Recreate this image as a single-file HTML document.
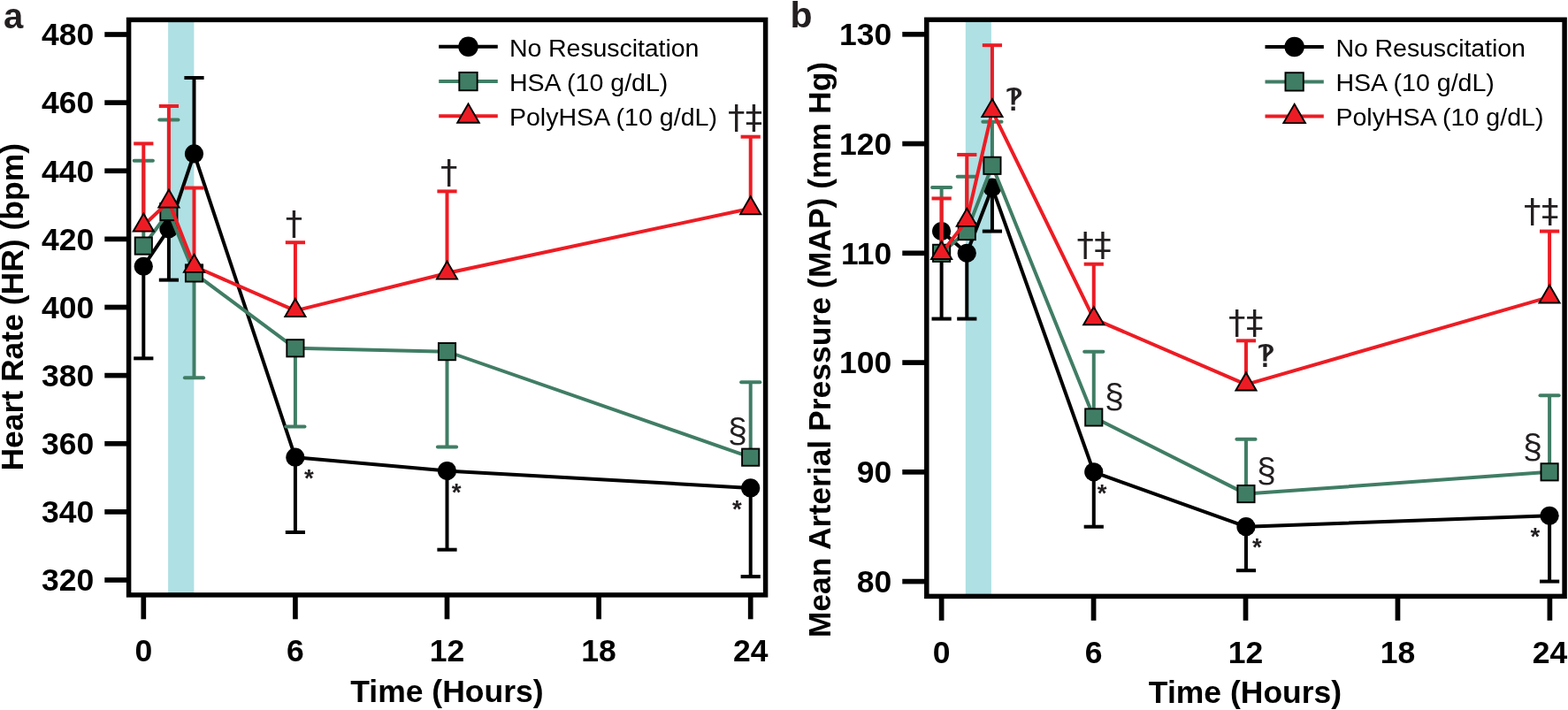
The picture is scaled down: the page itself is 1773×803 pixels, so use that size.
<!DOCTYPE html>
<html lang="en"><head><meta charset="utf-8"><title>Figure</title>
<style>html,body{margin:0;padding:0;background:#fff}body{width:1773px;height:803px;overflow:hidden}svg{display:block}text{font-family:"Liberation Sans",Arial,Helvetica,sans-serif}.sym{font-family:"Liberation Sans","DejaVu Sans",sans-serif;fill:#231F20}</style>
</head><body>
<svg width="1773" height="803" viewBox="0 0 1773 803">
<rect width="1773" height="803" fill="#fff"/>
<rect x="190.1" y="22.4" width="29.3" height="650.5" fill="#AEE0E4"/>
<g stroke="#000" stroke-width="5.7" fill="none">
<path d="M118.3 39H145.6"/>
<path d="M118.3 116.12H145.6"/>
<path d="M118.3 193.25H145.6"/>
<path d="M118.3 270.38H145.6"/>
<path d="M118.3 347.5H145.6"/>
<path d="M118.3 424.62H145.6"/>
<path d="M118.3 501.75H145.6"/>
<path d="M118.3 578.88H145.6"/>
<path d="M118.3 656H145.6"/>
<path d="M162.3 672.9V700.3"/>
<path d="M333.9 672.9V700.3"/>
<path d="M505.5 672.9V700.3"/>
<path d="M677.1 672.9V700.3"/>
<path d="M848.7 672.9V700.3"/>
</g>
<rect x="145.6" y="22.4" width="720" height="650.5" fill="none" stroke="#000" stroke-width="5.5"/>
<g font-weight="bold" font-size="35.5" fill="#000">
<text transform="translate(106.3 51.3) scale(1 1)" text-anchor="end">480</text>
<text transform="translate(106.3 128.43) scale(1 1)" text-anchor="end">460</text>
<text transform="translate(106.3 205.55) scale(1 1)" text-anchor="end">440</text>
<text transform="translate(106.3 282.68) scale(1 1)" text-anchor="end">420</text>
<text transform="translate(106.3 359.8) scale(1 1)" text-anchor="end">400</text>
<text transform="translate(106.3 436.93) scale(1 1)" text-anchor="end">380</text>
<text transform="translate(106.3 514.05) scale(1 1)" text-anchor="end">360</text>
<text transform="translate(106.3 591.17) scale(1 1)" text-anchor="end">340</text>
<text transform="translate(106.3 668.3) scale(1 1)" text-anchor="end">320</text>
<text transform="translate(162.3 748.4) scale(1 1)" text-anchor="middle">0</text>
<text transform="translate(333.9 748.4) scale(1 1)" text-anchor="middle">6</text>
<text transform="translate(505.5 748.4) scale(1 1)" text-anchor="middle">12</text>
<text transform="translate(677.1 748.4) scale(1 1)" text-anchor="middle">18</text>
<text transform="translate(848.7 748.4) scale(1 1)" text-anchor="middle">24</text>
<text transform="translate(505.4 793.9) scale(1 1)" text-anchor="middle">Time (Hours)</text>
</g>
<g stroke="#000000" stroke-width="4.0" fill="none">
<path d="M162.3 301.23V405.34"/>
<path d="M151.2 405.34H173.4"/>
<path d="M190.9 258.81V316.65"/>
<path d="M179.8 316.65H202"/>
<path d="M219.5 173.97V87.97"/>
<path d="M208.4 87.97H230.6"/>
<path d="M333.9 517.17V602.01"/>
<path d="M322.8 602.01H345"/>
<path d="M505.5 532.6V621.68"/>
<path d="M494.4 621.68H516.6"/>
<path d="M848.7 551.88V652.14"/>
<path d="M837.6 652.14H859.8"/>
<path d="M162.3 301.23L190.9 258.81L219.5 173.97L333.9 517.17L505.5 532.6L848.7 551.88" stroke-linejoin="round"/>
</g>
<circle cx="162.3" cy="301.23" r="10.6" fill="#000"/>
<circle cx="190.9" cy="258.81" r="10.6" fill="#000"/>
<circle cx="219.5" cy="173.97" r="10.6" fill="#000"/>
<circle cx="333.9" cy="517.17" r="10.6" fill="#000"/>
<circle cx="505.5" cy="532.6" r="10.6" fill="#000"/>
<circle cx="848.7" cy="551.88" r="10.6" fill="#000"/>
<g stroke="#407D65" stroke-width="4.0" fill="none">
<path d="M162.3 278.09V181.68"/>
<path d="M151.7 181.68H172.9" stroke-linecap="round"/>
<path d="M190.9 239.53V135.41"/>
<path d="M180.3 135.41H201.5" stroke-linecap="round"/>
<path d="M219.5 308.94V427.32"/>
<path d="M208.9 427.32H230.1" stroke-linecap="round"/>
<path d="M333.9 393.78V482.47"/>
<path d="M323.3 482.47H344.5" stroke-linecap="round"/>
<path d="M505.5 397.63V505.61"/>
<path d="M494.9 505.61H516.1" stroke-linecap="round"/>
<path d="M848.7 517.17V432.34"/>
<path d="M838.1 432.34H859.3" stroke-linecap="round"/>
<path d="M162.3 278.09L190.9 239.53L219.5 308.94L333.9 393.78L505.5 397.63L848.7 517.17" stroke-linejoin="round"/>
</g>
<rect x="152.7" y="268.49" width="19.2" height="19.2" fill="#407D65" stroke="#000" stroke-width="1.9"/>
<rect x="181.3" y="229.93" width="19.2" height="19.2" fill="#407D65" stroke="#000" stroke-width="1.9"/>
<rect x="209.9" y="299.34" width="19.2" height="19.2" fill="#407D65" stroke="#000" stroke-width="1.9"/>
<rect x="324.3" y="384.18" width="19.2" height="19.2" fill="#407D65" stroke="#000" stroke-width="1.9"/>
<rect x="495.9" y="388.03" width="19.2" height="19.2" fill="#407D65" stroke="#000" stroke-width="1.9"/>
<rect x="839.1" y="507.57" width="19.2" height="19.2" fill="#407D65" stroke="#000" stroke-width="1.9"/>
<g stroke="#ED1C24" stroke-width="4.0" fill="none">
<path d="M162.3 254.95V162.4"/>
<path d="M151.2 162.4H173.4"/>
<path d="M190.9 227.96V119.98"/>
<path d="M179.8 119.98H202"/>
<path d="M219.5 301.23V212.53"/>
<path d="M208.4 212.53H230.6"/>
<path d="M333.9 351.36V274.23"/>
<path d="M322.8 274.23H345"/>
<path d="M505.5 308.94V216.39"/>
<path d="M494.4 216.39H516.6"/>
<path d="M848.7 235.67V154.69"/>
<path d="M837.6 154.69H859.8"/>
<path d="M162.3 254.95L190.9 227.96L219.5 301.23L333.9 351.36L505.5 308.94L848.7 235.67" stroke-linejoin="round"/>
</g>
<path d="M162.3 241.56L173.9 261.65L150.7 261.65Z" fill="#ED1C24" stroke="#000" stroke-width="1.9" stroke-linejoin="miter"/>
<path d="M190.9 214.56L202.5 234.65L179.3 234.65Z" fill="#ED1C24" stroke="#000" stroke-width="1.9" stroke-linejoin="miter"/>
<path d="M219.5 287.83L231.1 307.92L207.9 307.92Z" fill="#ED1C24" stroke="#000" stroke-width="1.9" stroke-linejoin="miter"/>
<path d="M333.9 337.96L345.5 358.05L322.3 358.05Z" fill="#ED1C24" stroke="#000" stroke-width="1.9" stroke-linejoin="miter"/>
<path d="M505.5 295.54L517.1 315.63L493.9 315.63Z" fill="#ED1C24" stroke="#000" stroke-width="1.9" stroke-linejoin="miter"/>
<path d="M848.7 222.27L860.3 242.37L837.1 242.37Z" fill="#ED1C24" stroke="#000" stroke-width="1.9" stroke-linejoin="miter"/>
<rect x="1091.8" y="22.3" width="29.1" height="652.1" fill="#AEE0E4"/>
<g stroke="#000" stroke-width="5.7" fill="none">
<path d="M1020.3 38.8H1047.8"/>
<path d="M1020.3 162.56H1047.8"/>
<path d="M1020.3 286.32H1047.8"/>
<path d="M1020.3 410.08H1047.8"/>
<path d="M1020.3 533.84H1047.8"/>
<path d="M1020.3 657.6H1047.8"/>
<path d="M1064.63 674.4V701.8"/>
<path d="M1236.57 674.4V701.8"/>
<path d="M1408.51 674.4V701.8"/>
<path d="M1580.46 674.4V701.8"/>
<path d="M1752.4 674.4V701.8"/>
</g>
<rect x="1047.8" y="22.3" width="721.3" height="652.1" fill="none" stroke="#000" stroke-width="5.5"/>
<g font-weight="bold" font-size="35.5" fill="#000">
<text transform="translate(1008.3 51.1) scale(1 1)" text-anchor="end">130</text>
<text transform="translate(1008.3 174.86) scale(1 1)" text-anchor="end">120</text>
<text transform="translate(1008.3 298.62) scale(1 1)" text-anchor="end">110</text>
<text transform="translate(1008.3 422.38) scale(1 1)" text-anchor="end">100</text>
<text transform="translate(1008.3 546.14) scale(1 1)" text-anchor="end">90</text>
<text transform="translate(1008.3 669.9) scale(1 1)" text-anchor="end">80</text>
<text transform="translate(1064.63 750) scale(1 1)" text-anchor="middle">0</text>
<text transform="translate(1236.57 750) scale(1 1)" text-anchor="middle">6</text>
<text transform="translate(1408.51 750) scale(1 1)" text-anchor="middle">12</text>
<text transform="translate(1580.46 750) scale(1 1)" text-anchor="middle">18</text>
<text transform="translate(1752.4 750) scale(1 1)" text-anchor="middle">24</text>
<text transform="translate(1408 795.3) scale(1 1)" text-anchor="middle">Time (Hours)</text>
</g>
<g stroke="#000000" stroke-width="4.0" fill="none">
<path d="M1064.63 261.57V360.58"/>
<path d="M1053.53 360.58H1075.73"/>
<path d="M1093.29 286.32V360.58"/>
<path d="M1082.19 360.58H1104.39"/>
<path d="M1121.94 212.06V261.57"/>
<path d="M1110.84 261.57H1133.04"/>
<path d="M1236.77 533.84V595.72"/>
<path d="M1225.67 595.72H1247.87"/>
<path d="M1408.96 595.72V645.22"/>
<path d="M1397.86 645.22H1420.06"/>
<path d="M1752.1 583.34V657.6"/>
<path d="M1741 657.6H1763.2"/>
<path d="M1064.63 261.57L1093.29 286.32L1121.94 212.06L1236.77 533.84L1408.96 595.72L1752.1 583.34" stroke-linejoin="round"/>
</g>
<circle cx="1064.63" cy="261.57" r="10.6" fill="#000"/>
<circle cx="1093.29" cy="286.32" r="10.6" fill="#000"/>
<circle cx="1121.94" cy="212.06" r="10.6" fill="#000"/>
<circle cx="1236.77" cy="533.84" r="10.6" fill="#000"/>
<circle cx="1408.96" cy="595.72" r="10.6" fill="#000"/>
<circle cx="1752.1" cy="583.34" r="10.6" fill="#000"/>
<g stroke="#407D65" stroke-width="4.0" fill="none">
<path d="M1064.63 286.32V212.06"/>
<path d="M1054.03 212.06H1075.23" stroke-linecap="round"/>
<path d="M1093.29 261.57V199.69"/>
<path d="M1082.69 199.69H1103.89" stroke-linecap="round"/>
<path d="M1121.94 187.31V137.81"/>
<path d="M1111.34 137.81H1132.54" stroke-linecap="round"/>
<path d="M1236.77 471.96V397.7"/>
<path d="M1226.17 397.7H1247.37" stroke-linecap="round"/>
<path d="M1408.96 558.59V496.71"/>
<path d="M1398.36 496.71H1419.56" stroke-linecap="round"/>
<path d="M1752.1 533.84V447.21"/>
<path d="M1741.5 447.21H1762.7" stroke-linecap="round"/>
<path d="M1064.63 286.32L1093.29 261.57L1121.94 187.31L1236.77 471.96L1408.96 558.59L1752.1 533.84" stroke-linejoin="round"/>
</g>
<rect x="1055.03" y="276.72" width="19.2" height="19.2" fill="#407D65" stroke="#000" stroke-width="1.9"/>
<rect x="1083.69" y="251.97" width="19.2" height="19.2" fill="#407D65" stroke="#000" stroke-width="1.9"/>
<rect x="1112.34" y="177.71" width="19.2" height="19.2" fill="#407D65" stroke="#000" stroke-width="1.9"/>
<rect x="1227.17" y="462.36" width="19.2" height="19.2" fill="#407D65" stroke="#000" stroke-width="1.9"/>
<rect x="1399.36" y="548.99" width="19.2" height="19.2" fill="#407D65" stroke="#000" stroke-width="1.9"/>
<rect x="1742.5" y="524.24" width="19.2" height="19.2" fill="#407D65" stroke="#000" stroke-width="1.9"/>
<g stroke="#ED1C24" stroke-width="4.0" fill="none">
<path d="M1064.63 286.32V224.44"/>
<path d="M1053.53 224.44H1075.73"/>
<path d="M1093.29 249.19V174.94"/>
<path d="M1082.19 174.94H1104.39"/>
<path d="M1121.94 125.43V51.18"/>
<path d="M1110.84 51.18H1133.04"/>
<path d="M1236.77 360.58V298.7"/>
<path d="M1225.67 298.7H1247.87"/>
<path d="M1408.96 434.83V385.33"/>
<path d="M1397.86 385.33H1420.06"/>
<path d="M1752.1 335.82V261.57"/>
<path d="M1741 261.57H1763.2"/>
<path d="M1064.63 286.32L1093.29 249.19L1121.94 125.43L1236.77 360.58L1408.96 434.83L1752.1 335.82" stroke-linejoin="round"/>
</g>
<path d="M1064.63 272.93L1076.23 293.02L1053.03 293.02Z" fill="#ED1C24" stroke="#000" stroke-width="1.9" stroke-linejoin="miter"/>
<path d="M1093.29 235.8L1104.89 255.89L1081.69 255.89Z" fill="#ED1C24" stroke="#000" stroke-width="1.9" stroke-linejoin="miter"/>
<path d="M1121.94 112.04L1133.54 132.13L1110.34 132.13Z" fill="#ED1C24" stroke="#000" stroke-width="1.9" stroke-linejoin="miter"/>
<path d="M1236.77 347.18L1248.37 367.27L1225.17 367.27Z" fill="#ED1C24" stroke="#000" stroke-width="1.9" stroke-linejoin="miter"/>
<path d="M1408.96 421.44L1420.56 441.53L1397.36 441.53Z" fill="#ED1C24" stroke="#000" stroke-width="1.9" stroke-linejoin="miter"/>
<path d="M1752.1 322.43L1763.7 342.52L1740.5 342.52Z" fill="#ED1C24" stroke="#000" stroke-width="1.9" stroke-linejoin="miter"/>
<path d="M496.2 52.7H562.8" stroke="#000000" stroke-width="4.0"/>
<circle cx="529.5" cy="52.7" r="11.24" fill="#000"/>
<text transform="translate(575.9 63.9) scale(1.021 1)" font-size="28" fill="#000" letter-spacing="-0.1">No Resuscitation</text>
<path d="M496.2 92.1H562.8" stroke="#407D65" stroke-width="4.0"/>
<rect x="519.32" y="81.92" width="20.35" height="20.35" fill="#407D65" stroke="#000" stroke-width="1.9"/>
<text transform="translate(575.9 103.1) scale(1.021 1)" font-size="28" fill="#000">HSA (10 g/dL)</text>
<path d="M496.2 131.3H562.8" stroke="#ED1C24" stroke-width="4.0"/>
<path d="M529.5 117.5L541.8 138.8L517.2 138.8Z" fill="#ED1C24" stroke="#000" stroke-width="1.9" stroke-linejoin="miter"/>
<text transform="translate(575.9 142.2) scale(1.021 1)" font-size="28" fill="#000">PolyHSA (10 g/dL)</text>
<path d="M1430.5 53H1496.8" stroke="#000000" stroke-width="4.0"/>
<circle cx="1463.65" cy="53" r="11.24" fill="#000"/>
<text transform="translate(1510.4 63.9) scale(1.021 1)" font-size="28" fill="#000" letter-spacing="-0.1">No Resuscitation</text>
<path d="M1430.5 92.4H1496.8" stroke="#407D65" stroke-width="4.0"/>
<rect x="1453.47" y="82.22" width="20.35" height="20.35" fill="#407D65" stroke="#000" stroke-width="1.9"/>
<text transform="translate(1510.4 103.1) scale(1.021 1)" font-size="28" fill="#000">HSA (10 g/dL)</text>
<path d="M1430.5 131.6H1496.8" stroke="#ED1C24" stroke-width="4.0"/>
<path d="M1463.65 117.8L1475.95 139.1L1451.35 139.1Z" fill="#ED1C24" stroke="#000" stroke-width="1.9" stroke-linejoin="miter"/>
<text transform="translate(1510.4 142.2) scale(1.021 1)" font-size="28" fill="#000">PolyHSA (10 g/dL)</text>
<text x="4.0" y="31.5" font-size="40" font-weight="bold" fill="#231F20">a</text>
<text x="893.5" y="31.3" font-size="41" font-weight="bold" fill="#231F20">b</text>
<text transform="translate(26.4 532.6) rotate(-90) scale(1 1.012)" font-size="35.5" font-weight="bold" fill="#000">Heart Rate (HR) (bpm)</text>
<text transform="translate(939.0 721.3) rotate(-90) scale(1 1.012)" font-size="35.5" font-weight="bold" fill="#000">Mean Arterial Pressure (MAP) (mm Hg)</text>
<text class="sym" transform="translate(823.02 145.28) scale(1.027 1.0)" font-size="37.7" style="font-family:'DejaVu Sans',sans-serif">†</text>
<text class="sym" transform="translate(842.82 145.28) scale(1.027 1.0)" font-size="37.7" style="font-family:'DejaVu Sans',sans-serif">‡</text>
<text class="sym" transform="translate(322.82 265.38) scale(1.027 1.0)" font-size="37.7" style="font-family:'DejaVu Sans',sans-serif">†</text>
<text class="sym" transform="translate(498.02 207.28) scale(1.027 1.0)" font-size="37.7" style="font-family:'DejaVu Sans',sans-serif">†</text>
<text class="sym" transform="translate(822.89 499.68)" font-size="39.3">§</text>
<text class="sym" transform="translate(344.12 549.79)" font-size="27.6" font-weight="bold">*</text>
<text class="sym" transform="translate(510.82 565.99)" font-size="27.6" font-weight="bold">*</text>
<text class="sym" transform="translate(827.92 584.59)" font-size="27.6" font-weight="bold">*</text>
<text class="sym" transform="translate(1135.19 125.05) scale(1.22 1.0)" font-size="35.5" style="font-family:'DejaVu Sans',sans-serif">‽</text>
<text class="sym" transform="translate(1420.09 414.65) scale(1.22 1.0)" font-size="35.5" style="font-family:'DejaVu Sans',sans-serif">‽</text>
<text class="sym" transform="translate(1217.52 288.88) scale(1.027 1.0)" font-size="37.7" style="font-family:'DejaVu Sans',sans-serif">†</text>
<text class="sym" transform="translate(1237.32 288.88) scale(1.027 1.0)" font-size="37.7" style="font-family:'DejaVu Sans',sans-serif">‡</text>
<text class="sym" transform="translate(1389.12 377.08) scale(1.027 1.0)" font-size="37.7" style="font-family:'DejaVu Sans',sans-serif">†</text>
<text class="sym" transform="translate(1408.92 377.08) scale(1.027 1.0)" font-size="37.7" style="font-family:'DejaVu Sans',sans-serif">‡</text>
<text class="sym" transform="translate(1723.12 250.88) scale(1.027 1.0)" font-size="37.7" style="font-family:'DejaVu Sans',sans-serif">†</text>
<text class="sym" transform="translate(1742.92 250.88) scale(1.027 1.0)" font-size="37.7" style="font-family:'DejaVu Sans',sans-serif">‡</text>
<text class="sym" transform="translate(1248.99 461.28)" font-size="39.3">§</text>
<text class="sym" transform="translate(1420.99 544.88)" font-size="39.3">§</text>
<text class="sym" transform="translate(1722.09 517.68)" font-size="39.3">§</text>
<text class="sym" transform="translate(1240.72 566.59)" font-size="27.6" font-weight="bold">*</text>
<text class="sym" transform="translate(1415.92 627.59)" font-size="27.6" font-weight="bold">*</text>
<text class="sym" transform="translate(1730.52 615.99)" font-size="27.6" font-weight="bold">*</text>
</svg></body></html>
